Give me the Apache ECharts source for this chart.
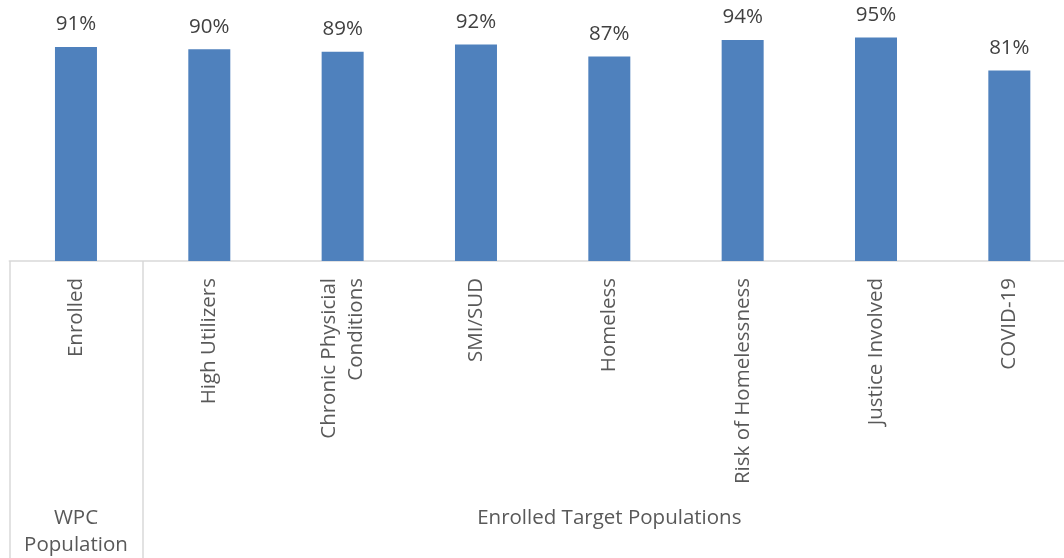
<!DOCTYPE html>
<html><head><meta charset="utf-8">
<script src="https://cdn.jsdelivr.net/npm/echarts@6/dist/echarts.min.js"></script>
<style>html,body{margin:0;padding:0;background:#fff}#c{width:1064px;height:558px}</style>
</head><body><div id="c"></div>
<script>
const categories = ['Enrolled','High Utilizers','Chronic Physicial\nConditions','SMI/SUD','Homeless','Risk of Homelessness','Justice Involved','COVID-19'];
const values = [91, 90, 89, 92, 87, 94, 95, 81];
const groupLabels = ['WPC\nPopulation', 'Enrolled Target Populations'];
const groupCenters = [0.5, 4.5];
const groupBoundaries = [0, 1];

const FONT = '"Open Sans", sans-serif';
const chart = echarts.init(document.getElementById('c'), null, {renderer:'canvas'});
chart.setOption({
  animation:false,
  grid:{left:9.3, top:25.8, right:-12, bottom:297, containLabel:false, outerBoundsMode:'none'},
  xAxis:[{
    type:'category', data:categories, boundaryGap:true,
    axisLine:{show:true, lineStyle:{color:'#d9d9d9', width:1.5}},
    axisTick:{show:true, alignWithLabel:false, length:297,
      interval:(i)=>groupBoundaries.indexOf(i)>=0,
      lineStyle:{color:'#d9d9d9', width:1.5}},
    axisLabel:{rotate:90, margin:17, interval:0, color:'#595959',
      fontFamily:FONT, fontSize:20.5, lineHeight:27}
  },{
    type:'value', min:0, max:8, interval:0.5, position:'bottom',
    axisLine:{show:false}, axisTick:{show:false}, splitLine:{show:false},
    axisLabel:{margin:244, color:'#595959', fontFamily:FONT, fontSize:20.5, lineHeight:27,
      verticalAlign:'top', showMinLabel:true, showMaxLabel:true,
      formatter:(v)=>{const k=groupCenters.indexOf(v); return k>=0?groupLabels[k]:'';}}
  }],
  yAxis:{type:'value', min:0, max:100, show:false, splitLine:{show:false}},
  series:[{
    type:'bar', data:values, barWidth:'31.5%', xAxisIndex:0,
    itemStyle:{color:'#4f81bd'},
    label:{show:true, position:'top', distance:12, formatter:'{c}%',
      color:'#404040', fontFamily:FONT, fontSize:20.5}
  }]
});
</script></body></html>
